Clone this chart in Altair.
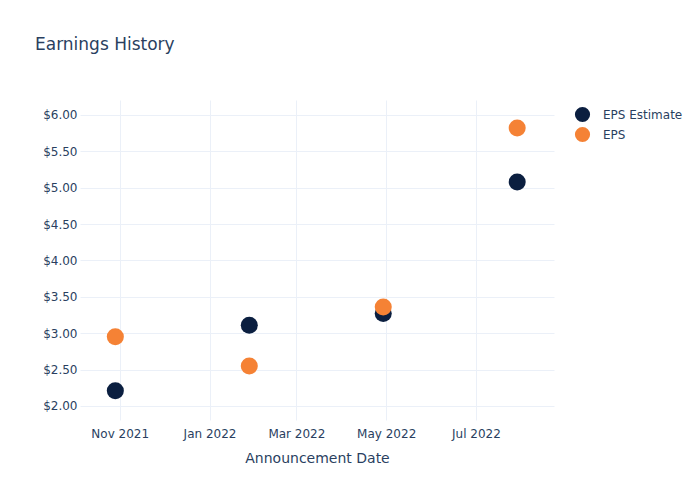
import altair as alt
import pandas as pd

dates = ["2021-10-29", "2022-01-28", "2022-04-29", "2022-07-29"]
eps_estimate = [2.21, 3.11, 3.27, 5.08]
eps_actual = [2.95, 2.55, 3.36, 5.82]
series_names = ["EPS Estimate", "EPS"]
series_colors = ["#0b1f40", "#f58235"]
x_ticks = ["2021-11-01", "2022-01-01", "2022-03-01", "2022-05-01", "2022-07-01"]
y_ticks = [2.0, 2.5, 3.0, 3.5, 4.0, 4.5, 5.0, 5.5, 6.0]

rows = []
for d, v in zip(dates, eps_estimate):
    rows.append({"date": d, "value": v, "series": series_names[0]})
for d, v in zip(dates, eps_actual):
    rows.append({"date": d, "value": v, "series": series_names[1]})
df = pd.DataFrame(rows)

FONT = "DejaVu Sans"
TXT = "#2a3f5f"
GRID = "#ebf0f8"

chart = alt.Chart(df).mark_circle(size=290, opacity=1).encode(
    x=alt.X("date:T", title="Announcement Date",
            scale=alt.Scale(domain=["2021-10-05", "2022-08-23"]),
            axis=alt.Axis(values=x_ticks, format="%b %Y", grid=True, gridColor=GRID,
                          ticks=False, domain=False, labelPadding=8, titlePadding=12,
                          labelFlush=False)),
    y=alt.Y("value:Q", title=None,
            scale=alt.Scale(domain=[1.807, 6.206], nice=False, zero=False),
            axis=alt.Axis(values=y_ticks, format="$.2f", grid=True, gridColor=GRID,
                          ticks=False, domain=False, labelPadding=3)),
    color=alt.Color("series:N", scale=alt.Scale(domain=series_names, range=series_colors),
                    legend=alt.Legend(title=None, orient="none", legendX=494, legendY=6,
                                      symbolSize=230, symbolType="circle",
                                      labelFontSize=12, labelColor=TXT, labelFont=FONT,
                                      rowPadding=3, labelOffset=12, symbolOpacity=1)),
).properties(
    width=474, height=320,
    title=alt.TitleParams("Earnings History", anchor="start", frame="group", dx=-45,
                          offset=46, fontSize=17, font=FONT, color=TXT,
                          fontWeight="normal"),
    autosize=alt.AutoSizeParams(type="none"),
    padding={"left": 80, "top": 100, "right": 146, "bottom": 80},
).configure(background="white").configure_view(stroke=None).configure_axis(
    labelFont=FONT, labelFontSize=12, labelColor=TXT,
    titleFont=FONT, titleFontSize=14, titleColor=TXT, titleFontWeight="normal",
)

chart.save("out.html", embed_options={"renderer": "svg", "actions": False})
